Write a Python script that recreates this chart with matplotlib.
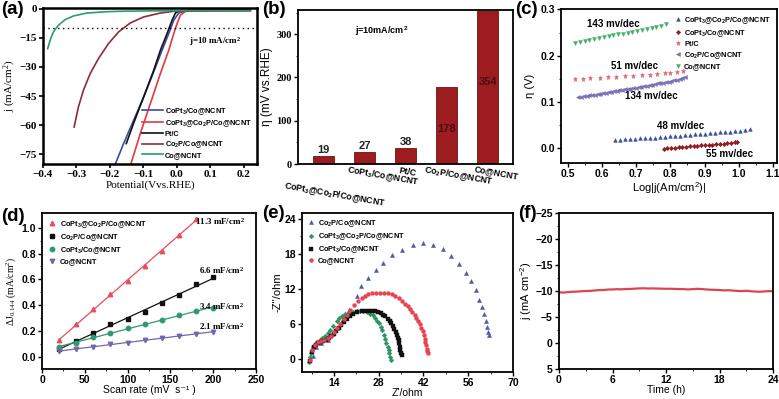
import numpy as np
import matplotlib
matplotlib.use('Agg')
import matplotlib.pyplot as plt
from matplotlib.transforms import blended_transform_factory

plt.rcParams['font.family'] = ['Liberation Sans', 'DejaVu Sans']
plt.rcParams['font.weight'] = 'bold'
plt.rcParams['mathtext.default'] = 'regular'
plt.rcParams['axes.linewidth'] = 1.3
plt.rcParams['xtick.major.size'] = 3
plt.rcParams['ytick.major.size'] = 3
plt.rcParams['xtick.minor.size'] = 1.6
plt.rcParams['ytick.minor.size'] = 1.6
plt.rcParams['xtick.major.width'] = 1.0
plt.rcParams['ytick.major.width'] = 1.0
plt.rcParams['xtick.major.pad'] = 1.5
plt.rcParams['ytick.major.pad'] = 1.5

SERIF = 'Liberation Serif'

# ---- (a) polarization curves ----
lsv_names = ['CoPt$_3$/Co@NCNT', 'CoPt$_3$@Co$_2$P/Co@NCNT', 'Pt/C', 'Co$_2$P/Co@NCNT', 'Co@NCNT']
lsv_colors = ['#3a4c9e', '#e8363f', '#111111', '#8a2f33', '#2a9d6c']
lsv_x = [
    [-0.186, -0.159, -0.129, -0.099, -0.069, -0.044, -0.024, -0.009, 0.006, 0.021, 0.06, 0.14, 0.22],
    [-0.139, -0.109, -0.079, -0.049, -0.024, -0.009, 0.001, 0.011, 0.026, 0.06, 0.14, 0.22],
    [-0.151, -0.129, -0.099, -0.069, -0.049, -0.029, -0.014, -0.004, 0.006, 0.03, 0.1, 0.22],
    [-0.307, -0.294, -0.279, -0.259, -0.234, -0.204, -0.174, -0.139, -0.099, -0.049, 0.0, 0.1, 0.22],
    [-0.386, -0.378, -0.369, -0.354, -0.334, -0.309, -0.269, -0.209, -0.15, -0.08, 0.0, 0.1, 0.22],
]
lsv_j = [
    [-81, -69.5, -57.5, -45.5, -32.6, -21.5, -12.9, -6.0, -2.3, -1.4, -1.2, -1.1, -1.0],
    [-81, -64.3, -48.9, -33.5, -21.5, -12.9, -7.7, -3.4, -1.4, -1.1, -1.0, -1.0],
    [-69.5, -59, -45.5, -31.8, -21.5, -12.9, -6.0, -2.3, -1.2, -0.9, -0.8, -0.8],
    [-61, -50.6, -42, -33.5, -25.7, -18, -12, -7.4, -4.3, -2.3, -1.2, -1.0, -1.0],
    [-20.6, -16, -12.0, -8.6, -5.7, -3.8, -2.3, -1.6, -1.3, -1.2, -1.1, -1.0, -1.0],
]

# ---- (b) overpotential bars ----
bar_names = ['CoPt$_3$@Co$_2$P/Co@NCNT', 'CoPt$_3$/Co@NCNT', 'Pt/C', 'Co$_2$P/Co@NCNT', 'Co@NCNT']
bar_eta = [19, 27, 38, 178, 354]

# ---- (c) Tafel plots ----
tafel_names = ['CoPt$_3$@Co$_2$P/Co@NCNT', 'CoPt$_3$/Co@NCNT', 'Pt/C', 'Co$_2$P/Co@NCNT', 'Co@NCNT']
tafel_x = [
    [0.638, 0.652, 0.667, 0.682, 0.696, 0.711, 0.726, 0.740, 0.755, 0.770, 0.784, 0.799, 0.814, 0.828,
     0.843, 0.858, 0.872, 0.887, 0.902, 0.916, 0.931, 0.946, 0.960, 0.975, 0.990, 1.004, 1.019, 1.033],
    [0.780, 0.791, 0.802, 0.813, 0.824, 0.835, 0.846, 0.857, 0.868, 0.879, 0.890, 0.901, 0.912, 0.923,
     0.934, 0.945, 0.956, 0.967, 0.978, 0.989, 0.994],
    [0.521, 0.545, 0.566, 0.595, 0.617, 0.640, 0.668, 0.690, 0.716, 0.740, 0.762, 0.785, 0.800, 0.818, 0.838],
    [0.531, 0.539, 0.547, 0.555, 0.563, 0.571, 0.579, 0.587, 0.595, 0.603, 0.611, 0.619, 0.627, 0.635,
     0.643, 0.651, 0.659, 0.667, 0.675, 0.683, 0.691, 0.699, 0.707, 0.715, 0.723, 0.731, 0.739, 0.747,
     0.755, 0.763, 0.771, 0.779, 0.787, 0.795, 0.803, 0.811, 0.819, 0.827, 0.835, 0.843],
    [0.521, 0.535, 0.549, 0.563, 0.577, 0.591, 0.605, 0.619, 0.633, 0.647, 0.661, 0.675, 0.689, 0.703,
     0.717, 0.731, 0.745, 0.759, 0.773, 0.787],
]
tafel_eta = [
    [0.017, 0.018, 0.019, 0.019, 0.020, 0.021, 0.022, 0.022, 0.023, 0.024, 0.025, 0.026, 0.026, 0.027,
     0.028, 0.029, 0.030, 0.030, 0.031, 0.032, 0.033, 0.034, 0.035, 0.036, 0.037, 0.038, 0.040, 0.041],
    [-0.001, 0.000, 0.001, 0.001, 0.002, 0.003, 0.003, 0.004, 0.005, 0.005, 0.006, 0.007, 0.007, 0.008,
     0.009, 0.010, 0.010, 0.011, 0.012, 0.013, 0.014],
    [0.149, 0.150, 0.151, 0.152, 0.153, 0.154, 0.156, 0.157, 0.158, 0.159, 0.161, 0.162, 0.163, 0.165, 0.167],
    [0.110, 0.111, 0.112, 0.113, 0.114, 0.115, 0.116, 0.117, 0.118, 0.119, 0.120, 0.121, 0.122, 0.123,
     0.124, 0.125, 0.126, 0.127, 0.128, 0.129, 0.130, 0.131, 0.132, 0.133, 0.134, 0.135, 0.136, 0.137,
     0.138, 0.140, 0.141, 0.142, 0.143, 0.144, 0.145, 0.147, 0.148, 0.149, 0.151, 0.153],
    [0.228, 0.230, 0.232, 0.234, 0.236, 0.238, 0.240, 0.242, 0.244, 0.246, 0.248, 0.250, 0.252, 0.254,
     0.256, 0.258, 0.260, 0.262, 0.265, 0.268],
]
tafel_slopes = ['48 mv/dec', '55 mv/dec', '51 mv/dec', '134 mv/dec', '143 mv/dec']

# ---- (d) double-layer capacitance ----
scan_rate = [20, 40, 60, 80, 100, 120, 140, 160, 180, 200]
cdl_names = ['CoPt$_3$@Co$_2$P/Co@NCNT', 'Co$_2$P/Co@NCNT', 'CoPt$_3$/Co@NCNT', 'Co@NCNT']
cdl_dj = [
    [0.13, 0.25, 0.37, 0.49, 0.585, 0.70, 0.82, 0.94, 1.07],
    [0.06, 0.125, 0.185, 0.25, 0.295, 0.345, 0.415, 0.48, 0.56, 0.615],
    [0.075, 0.11, 0.15, 0.185, 0.22, 0.25, 0.285, 0.32, 0.355, 0.38],
    [0.045, 0.06, 0.075, 0.095, 0.11, 0.13, 0.145, 0.16, 0.175, 0.195],
]
cdl_values = ['11.3 mF/cm$^2$', '6.6 mF/cm$^2$', '3.4 mF/cm$^2$', '2.1 mF/cm$^2$']

# ---- (e) Nyquist plots ----
eis_names = ['Co$_2$P/Co@NCNT', 'CoPt$_3$@Co$_2$P/Co@NCNT', 'CoPt$_3$/Co@NCNT', 'Co@NCNT']
eis_re = [
    [7.5, 8.5, 10.0, 12.0, 13.5, 15.0, 16.5, 17.6, 18.8, 21.1, 22.6, 24.7, 27.1, 29.4, 32.0, 35.2, 38.6,
     41.9, 45.0, 48.0, 50.7, 53.2, 55.3, 57.0, 58.4, 59.4, 60.2, 60.9, 61.4, 61.8, 62.2, 62.5],
    [6.3, 6.5, 6.7, 7.0, 7.5, 8.0, 8.8, 9.6, 10.4, 11.2, 12.0, 12.8, 13.6, 14.8, 15.6, 16.4, 17.4, 18.5,
     19.8, 21.1, 22.2, 23.2, 24.3, 25.3, 26.1, 26.8, 27.5, 28.1, 28.6, 29.1, 29.5, 29.9, 30.4, 30.8, 31.1,
     31.3, 31.6, 31.8],
    [6.5, 7.0, 7.6, 8.3, 9.1, 9.9, 10.7, 11.5, 12.3, 13.1, 13.9, 14.7, 15.5, 16.3, 17.2, 18.1, 19.0, 20.0,
     21.3, 22.7, 23.8, 24.9, 25.9, 26.8, 27.8, 28.7, 29.4, 30.1, 30.8, 31.4, 31.9, 32.4, 32.9, 33.3, 33.6,
     33.9, 34.2, 34.4, 34.6, 34.8, 35.0, 35.2],
    [6.6, 7.2, 8.0, 9.0, 10.0, 11.0, 12.0, 13.0, 14.0, 15.0, 16.0, 17.0, 18.0, 19.0, 20.3, 21.6, 22.7,
     23.7, 24.8, 25.8, 27.1, 28.4, 29.7, 31.0, 32.1, 33.1, 34.2, 35.2, 36.1, 37.0, 37.8, 38.5, 39.2, 39.8,
     40.4, 40.9, 41.3, 41.7, 42.1, 42.4, 42.6, 42.8, 43.0, 43.2, 43.3],
]
eis_im = [
    [0.5, 2.0, 2.8, 3.3, 4.3, 5.3, 6.5, 7.5, 8.4, 10.8, 12.5, 13.9, 15.2, 16.5, 17.8, 18.7, 19.6,
     19.8, 19.6, 18.8, 17.7, 16.3, 14.8, 13.3, 11.8, 10.2, 9.0, 7.7, 6.6, 5.5, 4.7, 4.1],
    [-0.5, 0.3, 1.0, 1.6, 2.1, 2.5, 2.9, 3.2, 3.6, 4.0, 4.5, 5.0, 5.6, 6.5, 7.0, 7.4, 7.7, 7.9,
     8.1, 8.2, 8.2, 8.2, 8.0, 7.8, 7.5, 7.1, 6.6, 6.1, 5.5, 4.9, 4.2, 3.5, 2.8, 2.1, 1.5,
     1.0, 0.4, -0.2],
    [-0.3, 1.2, 2.0, 2.5, 2.8, 3.0, 3.1, 3.3, 3.6, 3.9, 4.3, 4.8, 5.3, 5.8, 6.4, 6.9, 7.4, 7.8,
     8.1, 8.2, 8.3, 8.3, 8.3, 8.2, 8.1, 7.9, 7.6, 7.3, 6.9, 6.5, 6.1, 5.7, 5.2, 4.7, 4.2,
     3.7, 3.2, 2.7, 2.1, 1.5, 1.1, 0.7],
    [-0.2, 1.5, 2.4, 2.9, 3.1, 3.3, 3.6, 4.0, 4.6, 5.3, 6.0, 6.8, 7.6, 8.4, 9.3, 10.0, 10.5,
     10.8, 11.1, 11.3, 11.4, 11.4, 11.4, 11.3, 11.1, 10.8, 10.4, 10.0, 9.5, 9.1, 8.6, 8.1, 7.6, 7.1,
     6.6, 6.0, 5.4, 4.8, 4.1, 3.5, 3.0, 2.4, 1.8, 1.4, 1.1],
]

# ---- (f) chronoamperometry ----
time_h = [0, 0.5, 1, 1.5, 2, 2.5, 3, 3.5, 4, 4.5, 5, 5.5, 6, 6.5, 7, 7.5, 8, 8.5, 9, 9.5, 10, 10.5,
          11, 11.5, 12, 12.5, 13, 13.5, 14, 14.5, 15, 15.5, 16, 16.5, 17, 17.5, 18, 18.5, 19, 19.5,
          20, 20.5, 21, 21.5, 22, 22.5, 23, 23.5, 24]
current = [-9.75, -9.70, -9.78, -9.85, -9.88, -9.95, -10.00, -10.02, -10.10, -10.18, -10.20, -10.28,
           -10.30, -10.35, -10.32, -10.38, -10.40, -10.45, -10.50, -10.52, -10.48, -10.50, -10.47, -10.45,
           -10.42, -10.44, -10.40, -10.38, -10.35, -10.30, -10.36, -10.42, -10.38, -10.30, -10.25, -10.22,
           -10.18, -10.12, -10.15, -10.08, -10.02, -9.98, -10.05, -9.95, -9.90, -9.85, -9.92, -9.98, -9.95]

W, H = 779, 399
fig = plt.figure(figsize=(W / 100, H / 100), dpi=100)


def ax_at(l, t, r, b):
    return fig.add_axes([l / W, 1 - b / H, (r - l) / W, (b - t) / H])


def tick_font(ax, family, size=7.5):
    for lab in ax.get_xticklabels() + ax.get_yticklabels():
        lab.set_fontfamily(family)
        lab.set_fontsize(size)
        lab.set_fontweight('bold')


def panel_label(x, y, s):
    fig.text(x / W, 1 - y / H, s, fontsize=13.5, fontweight='bold', va='top', ha='left')


# (a)
ax = ax_at(43, 8, 257, 164)
for xs, js, c, name in zip(lsv_x, lsv_j, lsv_colors, lsv_names):
    ax.plot(xs, js, color=c, lw=1.2, label=name)
ax.axhline(-10, color='k', lw=1.0, ls=(0, (1, 2.5)))
ax.set_xlim(-0.4, 0.24)
ax.set_ylim(-80, 0.3)
ax.set_xticks([-0.4, -0.3, -0.2, -0.1, 0.0, 0.1, 0.2])
ax.set_yticks([0, -15, -30, -45, -60, -75])
ax.tick_params(width=1.2, length=3)
tick_font(ax, SERIF, 8)
ax.text(0.115, -17, 'j=10 mA/cm$^2$', family=SERIF, fontsize=6.5, ha='center', va='center')
ax.set_xlabel('Potential(Vvs.RHE)', family=SERIF, fontsize=8, labelpad=1)
ax.set_ylabel('j (mA/cm$^2$)', family=SERIF, fontsize=8, labelpad=1)
for sp in ax.spines.values():
    sp.set_linewidth(1.8)
ax.legend(loc='lower right', fontsize=5.3, frameon=False, handlelength=2.8, handletextpad=0.3,
          labelspacing=0.22, borderaxespad=0.3, bbox_to_anchor=(1.0, 0.0))
panel_label(1, 1, '(a)')

# (b)
ax = ax_at(298, 10, 513, 164)
pos = np.arange(len(bar_eta))
ax.bar(pos, bar_eta, width=0.52, color='#9c1c1f', edgecolor='#6e1214', lw=0.6)
for i, v in enumerate(bar_eta):
    if v < 100:
        ax.text(i, v + 2, str(v), ha='center', va='bottom', fontsize=8, color='#222222')
ax.text(3, 80, str(bar_eta[3]), ha='center', va='center', fontsize=8, color='#4a1010')
ax.text(4, 190, str(bar_eta[4]), ha='center', va='center', fontsize=8, color='#4a1010')
ax.set_xlim(-0.63, 4.62)
ax.set_ylim(0, 356)
ax.set_xticks([])
ax.set_yticks([0, 100, 200, 300])
ax.set_yticks([50, 150, 250, 350], minor=True)
tick_font(ax, SERIF, 7.5)
ax.set_ylabel('η (mV vs.RHE)', fontsize=8.5, fontweight='normal', labelpad=2)
ax.text(0.39, 0.86, 'j=10mA/cm$^2$', transform=ax.transAxes, fontsize=6.5, ha='center', va='center')
trans = blended_transform_factory(ax.transData, ax.transAxes)
label_dx = [0.27, 0.44, 0.05, 0.29, 0.22]
label_dy = [-0.20, -0.075, -0.055, -0.075, -0.055]
for i, name in enumerate(bar_names):
    ax.text(i + label_dx[i], label_dy[i], name, transform=trans, rotation=-10, ha='center',
            va='center', fontsize=6.3, rotation_mode='anchor')
panel_label(262, 1, '(b)')

# (c)
ax = ax_at(561, 9, 777, 163)
tafel_style = [('^', '#3d4f9a', 2.6), ('D', '#8e1d26', 2.2), ('*', '#e06a72', 3.6),
               ('<', '#7a6fb5', 2.8), ('v', '#46b06a', 2.8)]
for xs, ys, (m, c, ms), name in zip(tafel_x, tafel_eta, tafel_style, tafel_names):
    ax.plot(xs, ys, ls='none', marker=m, color=c, ms=ms, mew=0.4, label=name)
ax.text(0.634, 0.268, tafel_slopes[4], fontsize=7, ha='center', va='center')
ax.text(0.694, 0.178, tafel_slopes[2], fontsize=7, ha='center', va='center')
ax.text(0.745, 0.112, tafel_slopes[3], fontsize=7, ha='center', va='center')
ax.text(0.830, 0.048, tafel_slopes[0], fontsize=7, ha='center', va='center')
ax.text(0.972, -0.013, tafel_slopes[1], fontsize=7, ha='center', va='center')
ax.set_xlim(0.48, 1.112)
ax.set_ylim(-0.032, 0.301)
ax.set_xticks([0.5, 0.6, 0.7, 0.8, 0.9, 1.0, 1.1])
ax.set_yticks([0.0, 0.1, 0.2, 0.3])
ax.set_yticks([0.05, 0.15, 0.25], minor=True)
ax.set_xticks([0.55, 0.65, 0.75, 0.85, 0.95, 1.05], minor=True)
tick_font(ax, 'Liberation Sans', 7.5)
ax.set_ylabel('η (V)', fontsize=8, fontweight='normal', labelpad=4)
ax.set_xlabel('Log|j(Am/cm$^2$)|', fontsize=8, labelpad=1)
ax.legend(loc='upper right', fontsize=5.3, frameon=False, handlelength=1.0, handletextpad=0.4,
          labelspacing=0.3, borderaxespad=0.4, markerscale=1.0)
panel_label(515, 1, '(c)')

# (d)
ax = ax_at(42, 213, 256, 369)
cdl_style = [('^', '#e84d5c'), ('s', '#111111'), ('o', '#2f9a70'), ('v', '#7565ad')]
for dj, (m, c), name in zip(cdl_dj, cdl_style, cdl_names):
    xs = scan_rate[:len(dj)]
    k, b0 = np.polyfit(xs, dj, 1)
    ax.plot(xs, [k * x + b0 for x in xs], color=c, lw=0.9)
    ax.plot(xs, dj, ls='none', marker=m, color=c, ms=3.2, label=name)
ax.text(237, 1.05, cdl_values[0], family=SERIF, fontsize=6.5, ha='right', va='center')
ax.text(237, 0.672, cdl_values[1], family=SERIF, fontsize=6.5, ha='right', va='center')
ax.text(237, 0.393, cdl_values[2], family=SERIF, fontsize=6.5, ha='right', va='center')
ax.text(237, 0.238, cdl_values[3], family=SERIF, fontsize=6.5, ha='right', va='center')
ax.set_xlim(0, 250)
ax.set_ylim(-0.095, 1.114)
ax.set_xticks([0, 50, 100, 150, 200, 250])
ax.set_xticks([25, 75, 125, 175, 225], minor=True)
ax.set_yticks([0.0, 0.2, 0.4, 0.6, 0.8, 1.0])
ax.set_yticks([0.1, 0.3, 0.5, 0.7, 0.9], minor=True)
tick_font(ax, 'Liberation Sans', 7.5)
ax.set_xlabel('Scan rate (mV  s\u207b\u00b9 )', fontsize=7.5, fontweight='normal', labelpad=0)
ax.set_ylabel('ΔJ$_{0.144}$ (mA/cm$^2$)', family=SERIF, fontsize=7, fontweight='normal', labelpad=2)
ax.legend(loc='upper left', fontsize=5.3, frameon=False, handlelength=1.0, handletextpad=0.6,
          labelspacing=0.32, borderaxespad=0.4)
panel_label(1, 208, '(d)')

# (e)
ax = ax_at(302, 213, 513, 372)
eis_style = [('^', '#4a5aa8', 3.0), ('D', '#2a9360', 2.4), ('s', '#111111', 2.4), ('o', '#e8414f', 2.8)]
for re_, im_, (m, c, ms), name in zip(eis_re, eis_im, eis_style, eis_names):
    ax.plot(re_, im_, ls='none', marker=m, color=c, ms=ms, mew=0.3, label=name)
ax.set_xlim(4, 70)
ax.set_ylim(-2.2, 25.0)
ax.set_xticks([14, 28, 42, 56, 70])
ax.set_xticks([7, 21, 35, 49, 63], minor=True)
ax.set_yticks([0, 6, 12, 18, 24])
ax.set_yticks([3, 9, 15, 21], minor=True)
tick_font(ax, 'Liberation Sans', 7.5)
ax.set_xlabel("Z'/ohm", fontsize=7.5, labelpad=0)
ax.set_ylabel("-Z''/ohm", fontsize=8, labelpad=1)
ax.legend(loc='upper left', fontsize=5.3, frameon=False, handlelength=1.0, handletextpad=0.5,
          labelspacing=0.32, borderaxespad=0.3)
panel_label(262, 205, '(e)')

# (f)
ax = ax_at(559, 213, 773, 369)
ax.plot(time_h, current, color='#d9464f', lw=1.6)
ax.set_xlim(0, 24)
ax.set_ylim(5, -25)
ax.set_xticks([0, 6, 12, 18, 24])
ax.set_xticks([3, 9, 15, 21], minor=True)
ax.set_yticks([5, 0, -5, -10, -15, -20, -25])
ax.set_yticks([2.5, -2.5, -7.5, -12.5, -17.5, -22.5], minor=True)
tick_font(ax, 'Liberation Sans', 7.5)
ax.set_xlabel('Time (h)', fontsize=7.5, labelpad=0)
ax.set_ylabel('j (mA cm$^{-2}$)', fontsize=8, labelpad=1)
panel_label(518, 205, '(f)')

fig.savefig('out.png', dpi=100)
